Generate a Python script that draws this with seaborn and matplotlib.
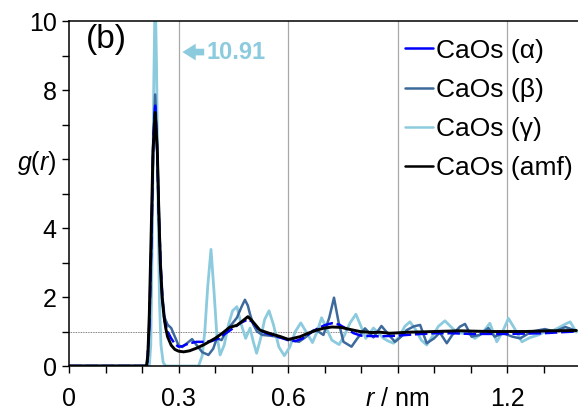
import numpy as np
import pandas as pd
import seaborn as sns
import matplotlib
matplotlib.use("Agg")
import matplotlib.pyplot as plt
from matplotlib.lines import Line2D
from matplotlib.ticker import MultipleLocator

# Radial distribution functions g(r) of Ca–Os pairs for three crystal phases
# and the amorphous (amf) model.
r_alpha = [0, 0.214, 0.22, 0.226, 0.231, 0.236, 0.241, 0.246, 0.251, 0.256, 0.262, 0.27, 0.28,
           0.29, 0.30, 0.31, 0.32, 0.33, 0.35, 0.37, 0.39, 0.41, 0.43, 0.45, 0.47, 0.49, 0.50,
           0.52, 0.54, 0.56, 0.58, 0.60, 0.62, 0.64, 0.66, 0.68, 0.70, 0.72, 0.74, 0.76, 0.78,
           0.80, 0.85, 0.90, 0.95, 1.0, 1.05, 1.1, 1.15, 1.2, 1.25, 1.3, 1.35, 1.39]
g_alpha = [0, 0, 1.2, 3.8, 6.6, 7.6, 6.4, 4.4, 2.9, 1.9, 1.3, 1.0, 0.8,
           0.64, 0.56, 0.57, 0.62, 0.66, 0.7, 0.7, 0.72, 0.8, 0.95, 1.1, 1.25, 1.35, 1.3,
           1.05, 0.95, 0.88, 0.82, 0.75, 0.72, 0.8, 0.95, 1.08, 1.18, 1.24, 1.2, 1.08, 0.95,
           0.88, 0.86, 0.88, 0.92, 0.95, 0.95, 0.93, 0.93, 0.93, 0.94, 0.95, 0.98, 1.0]

r_beta = [0, 0.214, 0.22, 0.226, 0.231, 0.236, 0.241, 0.246, 0.251, 0.256, 0.262, 0.27, 0.28,
          0.29, 0.30, 0.31, 0.322, 0.337, 0.35, 0.365, 0.382, 0.395, 0.405, 0.418, 0.43, 0.445,
          0.46, 0.472, 0.482, 0.49, 0.496, 0.505, 0.515, 0.53, 0.55, 0.57, 0.59, 0.61, 0.63,
          0.65, 0.67, 0.683, 0.697, 0.713, 0.726, 0.738, 0.752, 0.774, 0.79, 0.811, 0.834,
          0.856, 0.879, 0.893, 0.91, 0.925, 0.945, 0.962, 0.98, 1.0, 1.016, 1.035, 1.05, 1.071,
          1.085, 1.103, 1.125, 1.149, 1.166, 1.19, 1.215, 1.236, 1.268, 1.304, 1.33, 1.36, 1.39]
g_beta = [0, 0, 1.0, 3.5, 6.5, 7.87, 6.6, 4.6, 3.0, 2.0, 1.4, 1.2, 1.1,
          0.85, 0.6, 0.55, 0.65, 0.78, 0.6, 0.4, 0.32, 0.5, 0.8, 0.75, 1.0, 1.2,
          1.4, 1.7, 1.92, 1.75, 1.5, 1.2, 1.0, 0.9, 0.88, 0.85, 0.8, 0.75, 0.7,
          0.85, 1.04, 1.0, 0.9, 1.4, 1.98, 1.3, 0.7, 0.56, 0.8, 1.09, 0.83,
          1.16, 0.87, 0.7, 0.85, 1.04, 1.15, 1.19, 0.66, 0.8, 0.97, 0.66, 0.9, 1.14,
          1.22, 0.85, 0.9, 1.1, 0.85, 0.95, 0.85, 0.8, 1.0, 1.07, 1.0, 1.13, 1.02]

r_gamma = [0, 0.22, 0.224, 0.228, 0.232, 0.236, 0.240, 0.244, 0.248, 0.252, 0.258, 0.265,
           0.355, 0.365, 0.372, 0.38, 0.389, 0.397, 0.405, 0.414, 0.425, 0.437, 0.448, 0.46,
           0.472, 0.484, 0.496, 0.505, 0.514, 0.525, 0.536, 0.548, 0.56, 0.575, 0.59, 0.605,
           0.62, 0.635, 0.652, 0.667, 0.68, 0.692, 0.705, 0.72, 0.74, 0.755, 0.77, 0.786, 0.8,
           0.813, 0.824, 0.834, 0.848, 0.862, 0.875, 0.889, 0.905, 0.92, 0.934, 0.95, 0.965,
           0.98, 0.995, 1.012, 1.03, 1.045, 1.06, 1.075, 1.094, 1.112, 1.132, 1.153, 1.172,
           1.188, 1.204, 1.22, 1.241, 1.262, 1.286, 1.305, 1.32, 1.34, 1.357, 1.373, 1.39]
g_gamma = [0, 0, 0.6, 3.5, 8.0, 10.91, 8.6, 4.5, 1.8, 0.6, 0.1, 0,
           0, 0.3, 1.0, 2.3, 3.38, 2.2, 0.9, 0.32, 0.6, 1.2, 1.6, 1.72,
           1.2, 0.8, 1.1, 0.7, 0.37, 0.8, 1.35, 1.6, 1.2, 0.55, 0.3, 0.55,
           1.0, 1.25, 0.95, 0.68, 1.0, 1.4, 1.1, 0.75, 0.62, 0.9, 1.25, 1.5, 1.15,
           0.8, 0.95, 1.1, 0.95, 0.8, 0.72, 0.66, 0.85, 1.15, 1.28, 1.05, 0.75,
           0.61, 0.85, 1.15, 1.31, 1.15, 1.0, 0.95, 0.95, 0.8, 0.95, 1.24, 0.7,
           1.0, 1.38, 1.1, 0.7, 0.82, 0.9, 1.0, 1.0, 1.1, 1.2, 1.28, 0.98]

r_amf = [0, 0.212, 0.216, 0.22, 0.225, 0.23, 0.236, 0.242, 0.246, 0.25, 0.255, 0.26, 0.265,
         0.27, 0.28, 0.29, 0.30, 0.314, 0.33, 0.35, 0.37, 0.40, 0.42, 0.44, 0.46, 0.475, 0.49,
         0.50, 0.523, 0.551, 0.58, 0.601, 0.633, 0.655, 0.678, 0.70, 0.72, 0.745, 0.77, 0.797,
         0.83, 0.852, 0.879, 0.898, 0.93, 0.971, 1.0, 1.071, 1.15, 1.25, 1.32, 1.39]
g_amf = [0, 0, 0.3, 1.5, 3.8, 6.2, 7.35, 6.2, 4.5, 3.0, 2.0, 1.45, 1.1,
         0.85, 0.6, 0.48, 0.43, 0.41, 0.44, 0.52, 0.62, 0.8, 0.95, 1.12, 1.18, 1.3, 1.43,
         1.33, 1.04, 0.94, 0.85, 0.77, 0.85, 0.95, 1.04, 1.1, 1.13, 1.12, 1.06, 1.0,
         0.97, 0.98, 0.95, 0.96, 0.98, 0.99, 1.0, 1.02, 1.0, 1.0, 1.02, 1.03]

labels = ["CaOs (α)", "CaOs (β)", "CaOs (γ)", "CaOs (amf)"]
colors = ["#0000ff", "#3d6a9c", "#8ccade", "#000000"]
gamma_peak = max(g_gamma)

sns.set_theme(style="white")
plt.rcParams["font.family"] = ["Liberation Sans", "DejaVu Sans"]
plt.rcParams["text.color"] = "black"
plt.rcParams["mathtext.fontset"] = "custom"
plt.rcParams["mathtext.it"] = "Liberation Sans:italic"
plt.rcParams["mathtext.rm"] = "Liberation Sans"

fig = plt.figure(figsize=(5.78, 4.17), dpi=100)
ax = fig.add_axes([0.1194, 0.1223, 0.8806, 0.8273])

x_max = 1.3945
# vertical grid at the labelled r positions and the g(r)=1 reference
for xv in [0.3, 0.6, 0.9, 1.2]:
    ax.axvline(xv, color="#a8a8a8", lw=0.9, zorder=0)
ax.axhline(1.0, color="#555555", lw=0.6, ls=(0, (1, 1)), zorder=0)

sns.lineplot(x=r_gamma, y=g_gamma, ax=ax, color=colors[2], lw=2.0, sort=False, estimator=None)
sns.lineplot(x=r_beta, y=g_beta, ax=ax, color=colors[1], lw=1.8, sort=False, estimator=None)
sns.lineplot(x=r_alpha, y=g_alpha, ax=ax, color=colors[0], lw=1.8, sort=False, estimator=None,
             dashes=False, linestyle=(0, (5, 1.5)))
sns.lineplot(x=r_amf, y=g_amf, ax=ax, color=colors[3], lw=2.1, sort=False, estimator=None)

ax.set_xlim(0, x_max)
ax.set_ylim(0, 10)

xt = np.round(np.arange(0, 1.31, 0.1), 1)
ax.set_xticks(xt)
xl = []
for v in xt:
    if abs(v - 0.9) < 1e-6:
        xl.append("$r$ / nm")
    elif abs((v / 0.3) - round(v / 0.3)) < 1e-6:
        xl.append("0" if v == 0 else f"{v:.1f}")
    else:
        xl.append("")
ax.set_xticklabels(xl)

yt = np.arange(0, 11, 1)
ax.set_yticks(yt)
yl = []
for v in yt:
    if v == 6:
        yl.append("$g$($r$)")
    elif v % 2 == 0:
        yl.append(str(v))
    else:
        yl.append("")
ax.set_yticklabels(yl)

ax.tick_params(axis="both", which="major", direction="out", length=5, width=1.0,
               color="black", labelsize=18, labelcolor="black", pad=4,
               bottom=True, left=True)
ax.tick_params(axis="x", pad=10)

for side in ["left", "bottom", "top"]:
    ax.spines[side].set_color("black")
    ax.spines[side].set_linewidth(1.1)
ax.spines["right"].set_visible(False)
ax.set_xlabel("")
ax.set_ylabel("")

ax.text(0.045, 9.45, "(b)", fontsize=24, ha="left", va="center", color="black")

# annotation for the clipped γ peak height
ax.annotate("", xy=(0.303, 9.1), xytext=(0.378, 9.1),
            arrowprops=dict(arrowstyle="simple,head_length=0.8,head_width=1.0,tail_width=0.4",
                            color=colors[2], lw=0))
ax.text(0.378, 9.1, f"{gamma_peak:.2f}", fontsize=17, fontweight="bold",
        color=colors[2], ha="left", va="center")

handles = [Line2D([0], [0], color=c, lw=1.8) for c in colors]
leg = ax.legend(handles, labels, loc="upper right", bbox_to_anchor=(1.02, 0.995),
                frameon=False, fontsize=19, handlelength=1.05, handletextpad=0.1,
                labelspacing=0.58, borderaxespad=0.2)
for t in leg.get_texts():
    t.set_color("black")

fig.savefig("out.png", dpi=100)
